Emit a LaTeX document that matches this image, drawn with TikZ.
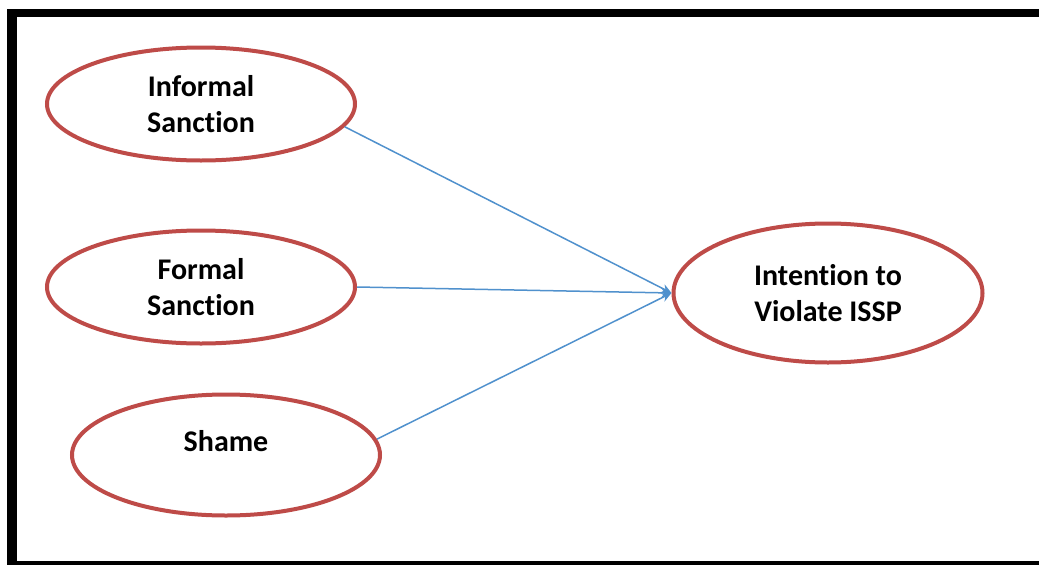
\documentclass[tikz,border=0pt]{standalone}
\usepackage{fontspec}
\setmainfont{Carlito}[Ligatures=NoCommon]
\usetikzlibrary{shapes.geometric,arrows.meta}
\definecolor{ovalred}{RGB}{190,75,72}
\definecolor{linkblue}{RGB}{80,145,205}
\tikzset{
  labelfont/.style={font=\bfseries\fontsize{30}{36}\selectfont},
  construct/.style={ellipse, draw=ovalred, line width=4pt, fill=white,
    inner sep=0pt, align=center, labelfont},
  link/.style={draw=linkblue, line width=1.5pt,
    -{Stealth[length=10pt,width=9pt]}},
  frame/.style={fill=black, draw=none}
}
\begin{document}
\begin{tikzpicture}[x=1pt,y=-1pt]
\useasboundingbox (0,0) rectangle (1039,565);
\fill[white] (0,0) rectangle (1039,565);
% outer frame (left, top, bottom bars)
\fill[frame] (7,9) rectangle (17,565);
\fill[frame] (7,9) rectangle (1039,17);
\fill[frame] (7,561) rectangle (1039,565);

% constructs
\node[construct, minimum width=308pt, minimum height=113pt] (inf) at (201,104) {Informal\\Sanction};
\node[construct, minimum width=308pt, minimum height=113pt] (frm) at (201,287) {Formal\\Sanction};
\node[construct, minimum width=308pt, minimum height=121pt,
      label={[yshift=14pt, labelfont]center:Shame}] (shm) at (226,455) {};
\node[construct, minimum width=309pt, minimum height=139pt] (int) at (828,293) {Intention to\\Violate ISSP};

% paths into the outcome
\draw[link] (inf.-9) -- (int.west);
\draw[link] (frm.east) -- (int.west);
\draw[link] (shm.6) -- (int.west);
\end{tikzpicture}
\end{document}
